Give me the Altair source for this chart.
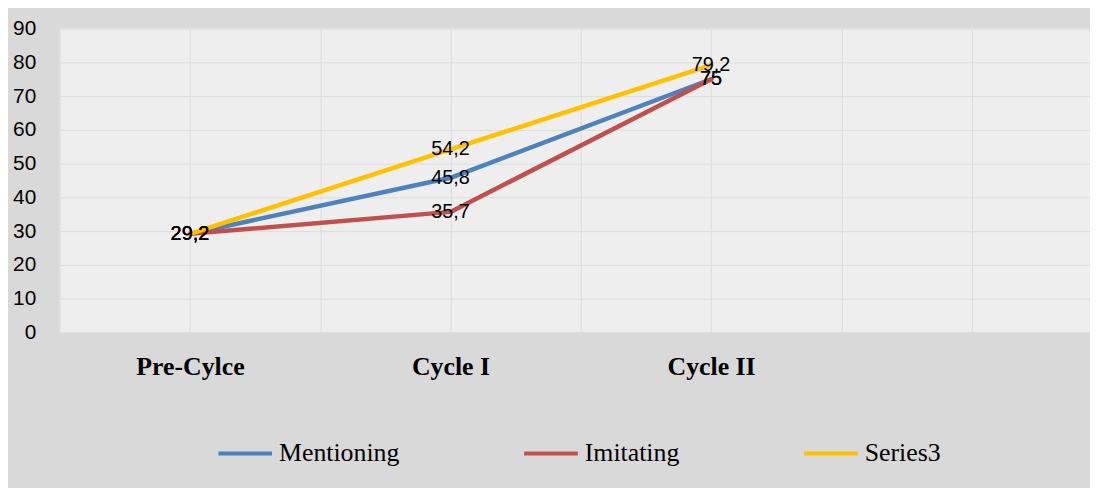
import altair as alt
import pandas as pd

categories = ["Pre-Cylce", "Cycle I", "Cycle II"]
series_names = ["Mentioning", "Imitating", "Series3"]
mentioning = [29.2, 45.8, 75]
imitating = [29.2, 35.7, 75]
series3 = [29.2, 54.2, 79.2]
colors = ["#4f81bd", "#c0504d", "#ffc000"]
y_ticks = [0, 10, 20, 30, 40, 50, 60, 70, 80, 90]


def fmt(v):
    s = ("%g" % v)
    return s.replace(".", ",")


rows = []
for name, vals in zip(series_names, [mentioning, imitating, series3]):
    for i, (c, v) in enumerate(zip(categories, vals)):
        rows.append({"series": name, "cat": c, "pos": i + 0.5, "value": v,
                     "label": fmt(v), "order": series_names.index(name)})
df = pd.DataFrame(rows)

label_expr = ("datum.value == 0.5 ? '%s' : datum.value == 1.5 ? '%s' : "
              "datum.value == 2.5 ? '%s' : ''") % tuple(categories)

x_enc = alt.X("pos:Q",
              scale=alt.Scale(domain=[0, 3.954], nice=False, zero=False),
              axis=alt.Axis(values=[0, 0.5, 1, 1.5, 2, 2.5, 3, 3.5],
                            labelExpr=label_expr, title=None, domain=False,
                            ticks=False, grid=True, gridColor="#dcdcdc",
                            gridWidth=1, labelFont="Liberation Serif",
                            labelFontWeight="bold", labelFontSize=26,
                            labelColor="#000000", labelPadding=34,
                            labelBaseline="middle", labelFlush=False,
                            labelOverlap=False))
y_enc = alt.Y("value:Q",
              scale=alt.Scale(domain=[0, 90], nice=False),
              axis=alt.Axis(values=y_ticks, title=None, domain=False,
                            ticks=False, grid=True, gridColor="#dcdcdc",
                            gridWidth=1, labelFont="Liberation Sans",
                            labelFontSize=21, labelColor="#000000",
                            labelPadding=24, labelOverlap=False,
                            labelFlush=False))

color_enc = alt.Color("series:N",
                      scale=alt.Scale(domain=series_names, range=colors),
                      legend=alt.Legend(title=None, orient="none",
                                        direction="horizontal",
                                        legendX=158, legendY=399,
                                        symbolType="stroke",
                                        symbolStrokeWidth=4,
                                        symbolSize=2916,
                                        labelFont="Liberation Serif",
                                        labelFontSize=26,
                                        labelColor="#000000",
                                        labelOffset=5,
                                        labelLimit=400,
                                        columnPadding=117,
                                        padding=0))

lines = alt.Chart(df).mark_line(strokeWidth=4.5, strokeCap="round",
                                strokeJoin="round").encode(
    x=x_enc, y=y_enc, color=color_enc, detail="series:N",
    order=alt.Order("pos:Q"))

texts = alt.Chart(df).mark_text(font="Liberation Sans", fontSize=20,
                                color="#000000", align="center",
                                baseline="middle").encode(
    x=x_enc, y=y_enc, text="label:N")

chart = alt.layer(lines, texts).properties(
    width=1038, height=306,
    background="#d9d9d9",
    autosize=alt.AutoSizeParams(type="none"),
    padding={"left": 52, "top": 19, "right": 0, "bottom": 155},
).configure_view(fill="#eeeeee", stroke=None).configure_axis(
    labelOverlap=False)

chart.save("out.html", embed_options={"renderer": "svg", "actions": False})
